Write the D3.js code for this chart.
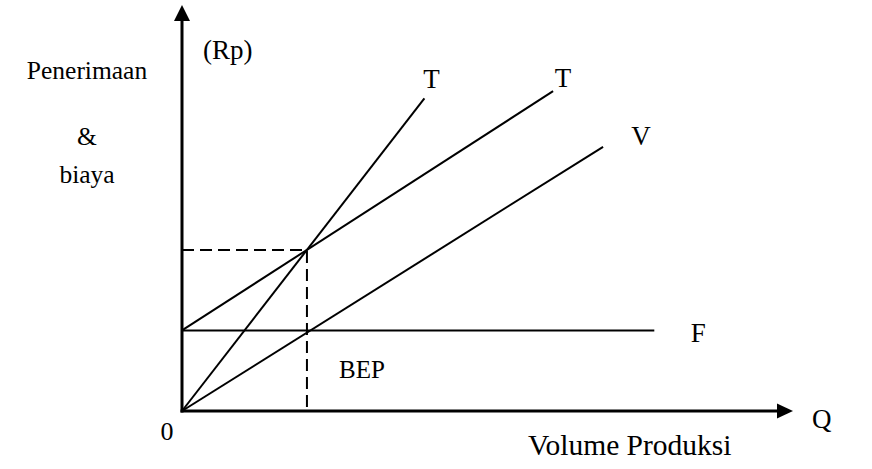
<!DOCTYPE html>
<html>
<head>
<meta charset="utf-8">
<script src="https://cdn.jsdelivr.net/npm/d3@7"></script>
<style>
  html, body { margin: 0; padding: 0; background: #fff; }
  svg { display: block; }
  text { font-family: "Liberation Serif", "Times New Roman", serif; fill: #000; }
</style>
</head>
<body>
<script>
// ---- data (arbitrary units) ----
const axisMax = { q: 48.9, rp: 50.4 };
const bep = { q: 10, value: 20 };
const fixedCost = 10;
// lines: [start, end] in (Q, Rp) units
const revenueLine = [[0, 0], [19.4, 38.8]];       // T (steep)
const totalCostLine = [[0, 10], [29.7, 39.7]];    // T (total cost)
const variableCostLine = [[0, 0], [33.7, 32.8]];  // V
const fixedCostLine = [[0, fixedCost], [37.8, fixedCost]]; // F
const lineLabels = [
  { text: "T", at: [19.4, 38.8], dx: 7, dy: -10 },
  { text: "T", at: [29.7, 39.7], dx: 10, dy: -4 },
  { text: "V", at: [33.7, 32.8], dx: 38, dy: -2 },
  { text: "F", at: [37.8, 10], dx: 44, dy: 12 }
];
const yTitle = ["Penerimaan", "&", "biaya"];
const unitLabel = "(Rp)";
const xTitle = "Volume Produksi";
const xEndLabel = "Q";
const originLabel = "0";
const bepLabel = "BEP";

const W = 872, H = 469;
const svg = d3.select("body").append("svg").attr("width", W).attr("height", H);

const x = d3.scaleLinear().domain([0, axisMax.q]).range([182, 793]);
const y = d3.scaleLinear().domain([0, axisMax.rp]).range([411, 5]);

const line = d3.line().x(d => x(d[0])).y(d => y(d[1]));

// dashed BEP guides
svg.append("path")
  .attr("d", line([[0, bep.value], [bep.q, bep.value], [bep.q, 0]]))
  .attr("fill", "none").attr("stroke", "#000").attr("stroke-width", 2)
  .attr("stroke-dasharray", "12,6");

// cost / revenue lines
[revenueLine, totalCostLine, variableCostLine, fixedCostLine].forEach(l => {
  svg.append("path").attr("d", line(l))
    .attr("fill", "none").attr("stroke", "#000").attr("stroke-width", 2);
});

// axes
const ox = x(0), oy = y(0);
const yTip = y(axisMax.rp), xTip = x(axisMax.q);
svg.append("line").attr("x1", ox).attr("y1", oy + 1.5).attr("x2", ox).attr("y2", yTip + 12)
  .attr("stroke", "#000").attr("stroke-width", 3);
svg.append("line").attr("x1", ox - 1.5).attr("y1", oy).attr("x2", xTip - 12).attr("y2", oy)
  .attr("stroke", "#000").attr("stroke-width", 3);
svg.append("path")
  .attr("d", `M${ox},${yTip} L${ox - 8},${yTip + 16} L${ox + 8},${yTip + 16} Z`)
  .attr("fill", "#000");
svg.append("path")
  .attr("d", `M${xTip},${oy} L${xTip - 16},${oy - 7.5} L${xTip - 16},${oy + 7.5} Z`)
  .attr("fill", "#000");

// labels
lineLabels.forEach(d => {
  svg.append("text").attr("x", x(d.at[0]) + d.dx).attr("y", y(d.at[1]) + d.dy)
    .attr("text-anchor", "middle").attr("font-size", 27).text(d.text);
});

const yTitleY = [79, 145, 183];
yTitle.forEach((t, i) => {
  svg.append("text").attr("x", 87).attr("y", yTitleY[i])
    .attr("text-anchor", "middle").attr("font-size", 25.5).text(t);
});

svg.append("text").attr("x", 203).attr("y", 59).attr("font-size", 27).text(unitLabel);
svg.append("text").attr("x", 167).attr("y", 440).attr("text-anchor", "middle")
  .attr("font-size", 26).text(originLabel);
svg.append("text").attr("x", 812).attr("y", 428).attr("font-size", 27).text(xEndLabel);
svg.append("text").attr("x", 339).attr("y", 378).attr("font-size", 25).text(bepLabel);
svg.append("text").attr("x", 528).attr("y", 455).attr("font-size", 29.5).text(xTitle);
</script>
</body>
</html>
